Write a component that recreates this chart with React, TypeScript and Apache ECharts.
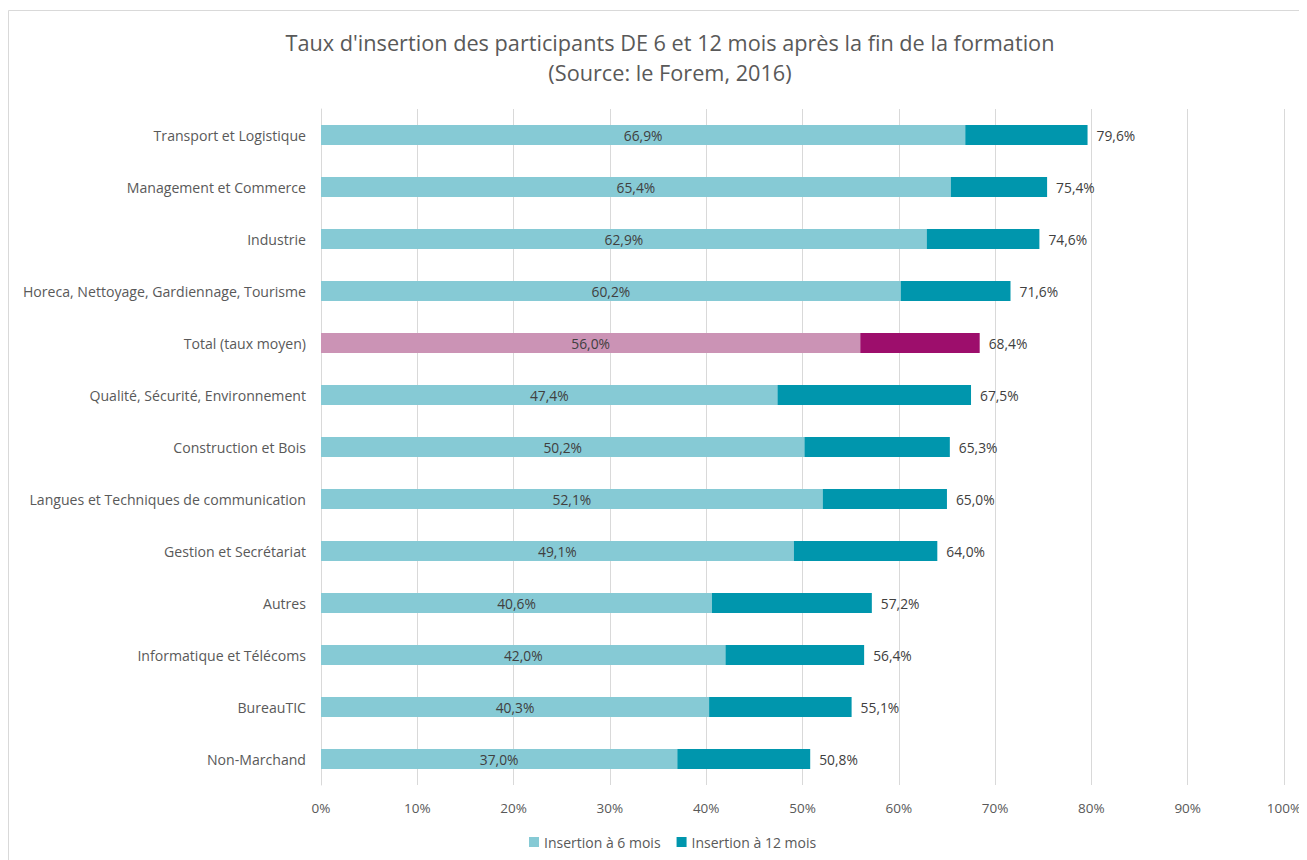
import React, { useEffect, useRef } from "react";
import * as echarts from "echarts";

const categories = [
  "Transport et Logistique",
  "Management et Commerce",
  "Industrie",
  "Horeca, Nettoyage, Gardiennage, Tourisme",
  "Total (taux moyen)",
  "Qualité, Sécurité, Environnement",
  "Construction et Bois",
  "Langues et Techniques de communication",
  "Gestion et Secrétariat",
  "Autres",
  "Informatique et Télécoms",
  "BureauTIC",
  "Non-Marchand",
];
const insertion6 = [66.9, 65.4, 62.9, 60.2, 56.0, 47.4, 50.2, 52.1, 49.1, 40.6, 42.0, 40.3, 37.0];
const insertion12 = [79.6, 75.4, 74.6, 71.6, 68.4, 67.5, 65.3, 65.0, 64.0, 57.2, 56.4, 55.1, 50.8];
const totalIndex = 4;

const FONT = "'Open Sans', sans-serif";
const fmt = (v: number) => v.toFixed(1).replace(".", ",") + "%";

export default function App() {
  const ref = useRef<HTMLDivElement>(null);
  useEffect(() => {
    if (!ref.current) return;
    const chart = echarts.init(ref.current, undefined, { renderer: "svg" });
    const light = "#86cad5";
    const dark = "#0096ad";
    const pinkLight = "#cb93b5";
    const pinkDark = "#9d0e6c";
    chart.setOption({
      animation: false,
      textStyle: { fontFamily: FONT },
      graphic: [
        {
          type: "rect",
          shape: { x: 0.5, y: 2.5, width: 1400, height: 1000 },
          style: { fill: "none", stroke: "#d9d9d9", lineWidth: 1 },
          silent: true,
        },
      ],
      title: {
        text: "Taux d'insertion des participants DE 6 et 12 mois après la fin de la formation\n(Source: le Forem, 2016)",
        left: 657,
        textAlign: "center",
        top: 14,
        textStyle: {
          fontFamily: FONT,
          fontSize: 21.7,
          fontWeight: "normal",
          color: "#595959",
          lineHeight: 30,
        },
      },
      legend: {
        bottom: 6,
        left: 516,
        itemWidth: 10,
        itemHeight: 10,
        itemGap: 16,
        icon: "rect",
        textStyle: { fontFamily: FONT, fontSize: 14, color: "#595959" },
        data: [
          { name: "Insertion à 6 mois", itemStyle: { color: light } },
          { name: "Insertion à 12 mois", itemStyle: { color: dark } },
        ],
      },
      grid: { left: 313, top: 101, width: 963, height: 676, containLabel: false },
      xAxis: {
        type: "value",
        min: 0,
        max: 100,
        interval: 10,
        axisLine: { show: false },
        axisTick: { show: false },
        splitLine: { show: true, lineStyle: { color: "#d9d9d9", width: 1 } },
        axisLabel: {
          formatter: (v: number) => v + "%",
          color: "#595959",
          fontSize: 13.5,
          fontFamily: FONT,
          margin: 16,
        },
      },
      yAxis: {
        type: "category",
        data: categories,
        inverse: true,
        axisLine: { show: true, lineStyle: { color: "#d9d9d9" } },
        axisTick: { show: false },
        axisLabel: { color: "#595959", fontSize: 14.1, fontFamily: FONT, margin: 15 },
      },
      series: [
        {
          name: "Insertion à 6 mois",
          type: "bar",
          stack: "a",
          barWidth: 20,
          itemStyle: { color: light },
          label: {
            show: true,
            position: "inside",
            color: "#404040",
            fontSize: 13.8,
            fontFamily: FONT,
            formatter: (p: any) => fmt(insertion6[p.dataIndex]),
          },
          data: insertion6.map((v, i) =>
            i === totalIndex ? { value: v, itemStyle: { color: pinkLight } } : v
          ),
        },
        {
          name: "Insertion à 12 mois",
          type: "bar",
          stack: "a",
          barWidth: 20,
          itemStyle: { color: dark },
          label: {
            show: true,
            position: "right",
            distance: 9,
            color: "#404040",
            fontSize: 13.8,
            fontFamily: FONT,
            formatter: (p: any) => fmt(insertion12[p.dataIndex]),
          },
          data: insertion12.map((v, i) => {
            const d = Math.round((v - insertion6[i]) * 10) / 10;
            return i === totalIndex ? { value: d, itemStyle: { color: pinkDark } } : d;
          }),
        },
      ],
    });
    return () => chart.dispose();
  }, []);
  return <div ref={ref} style={{ width: 1299, height: 852 }} />;
}
